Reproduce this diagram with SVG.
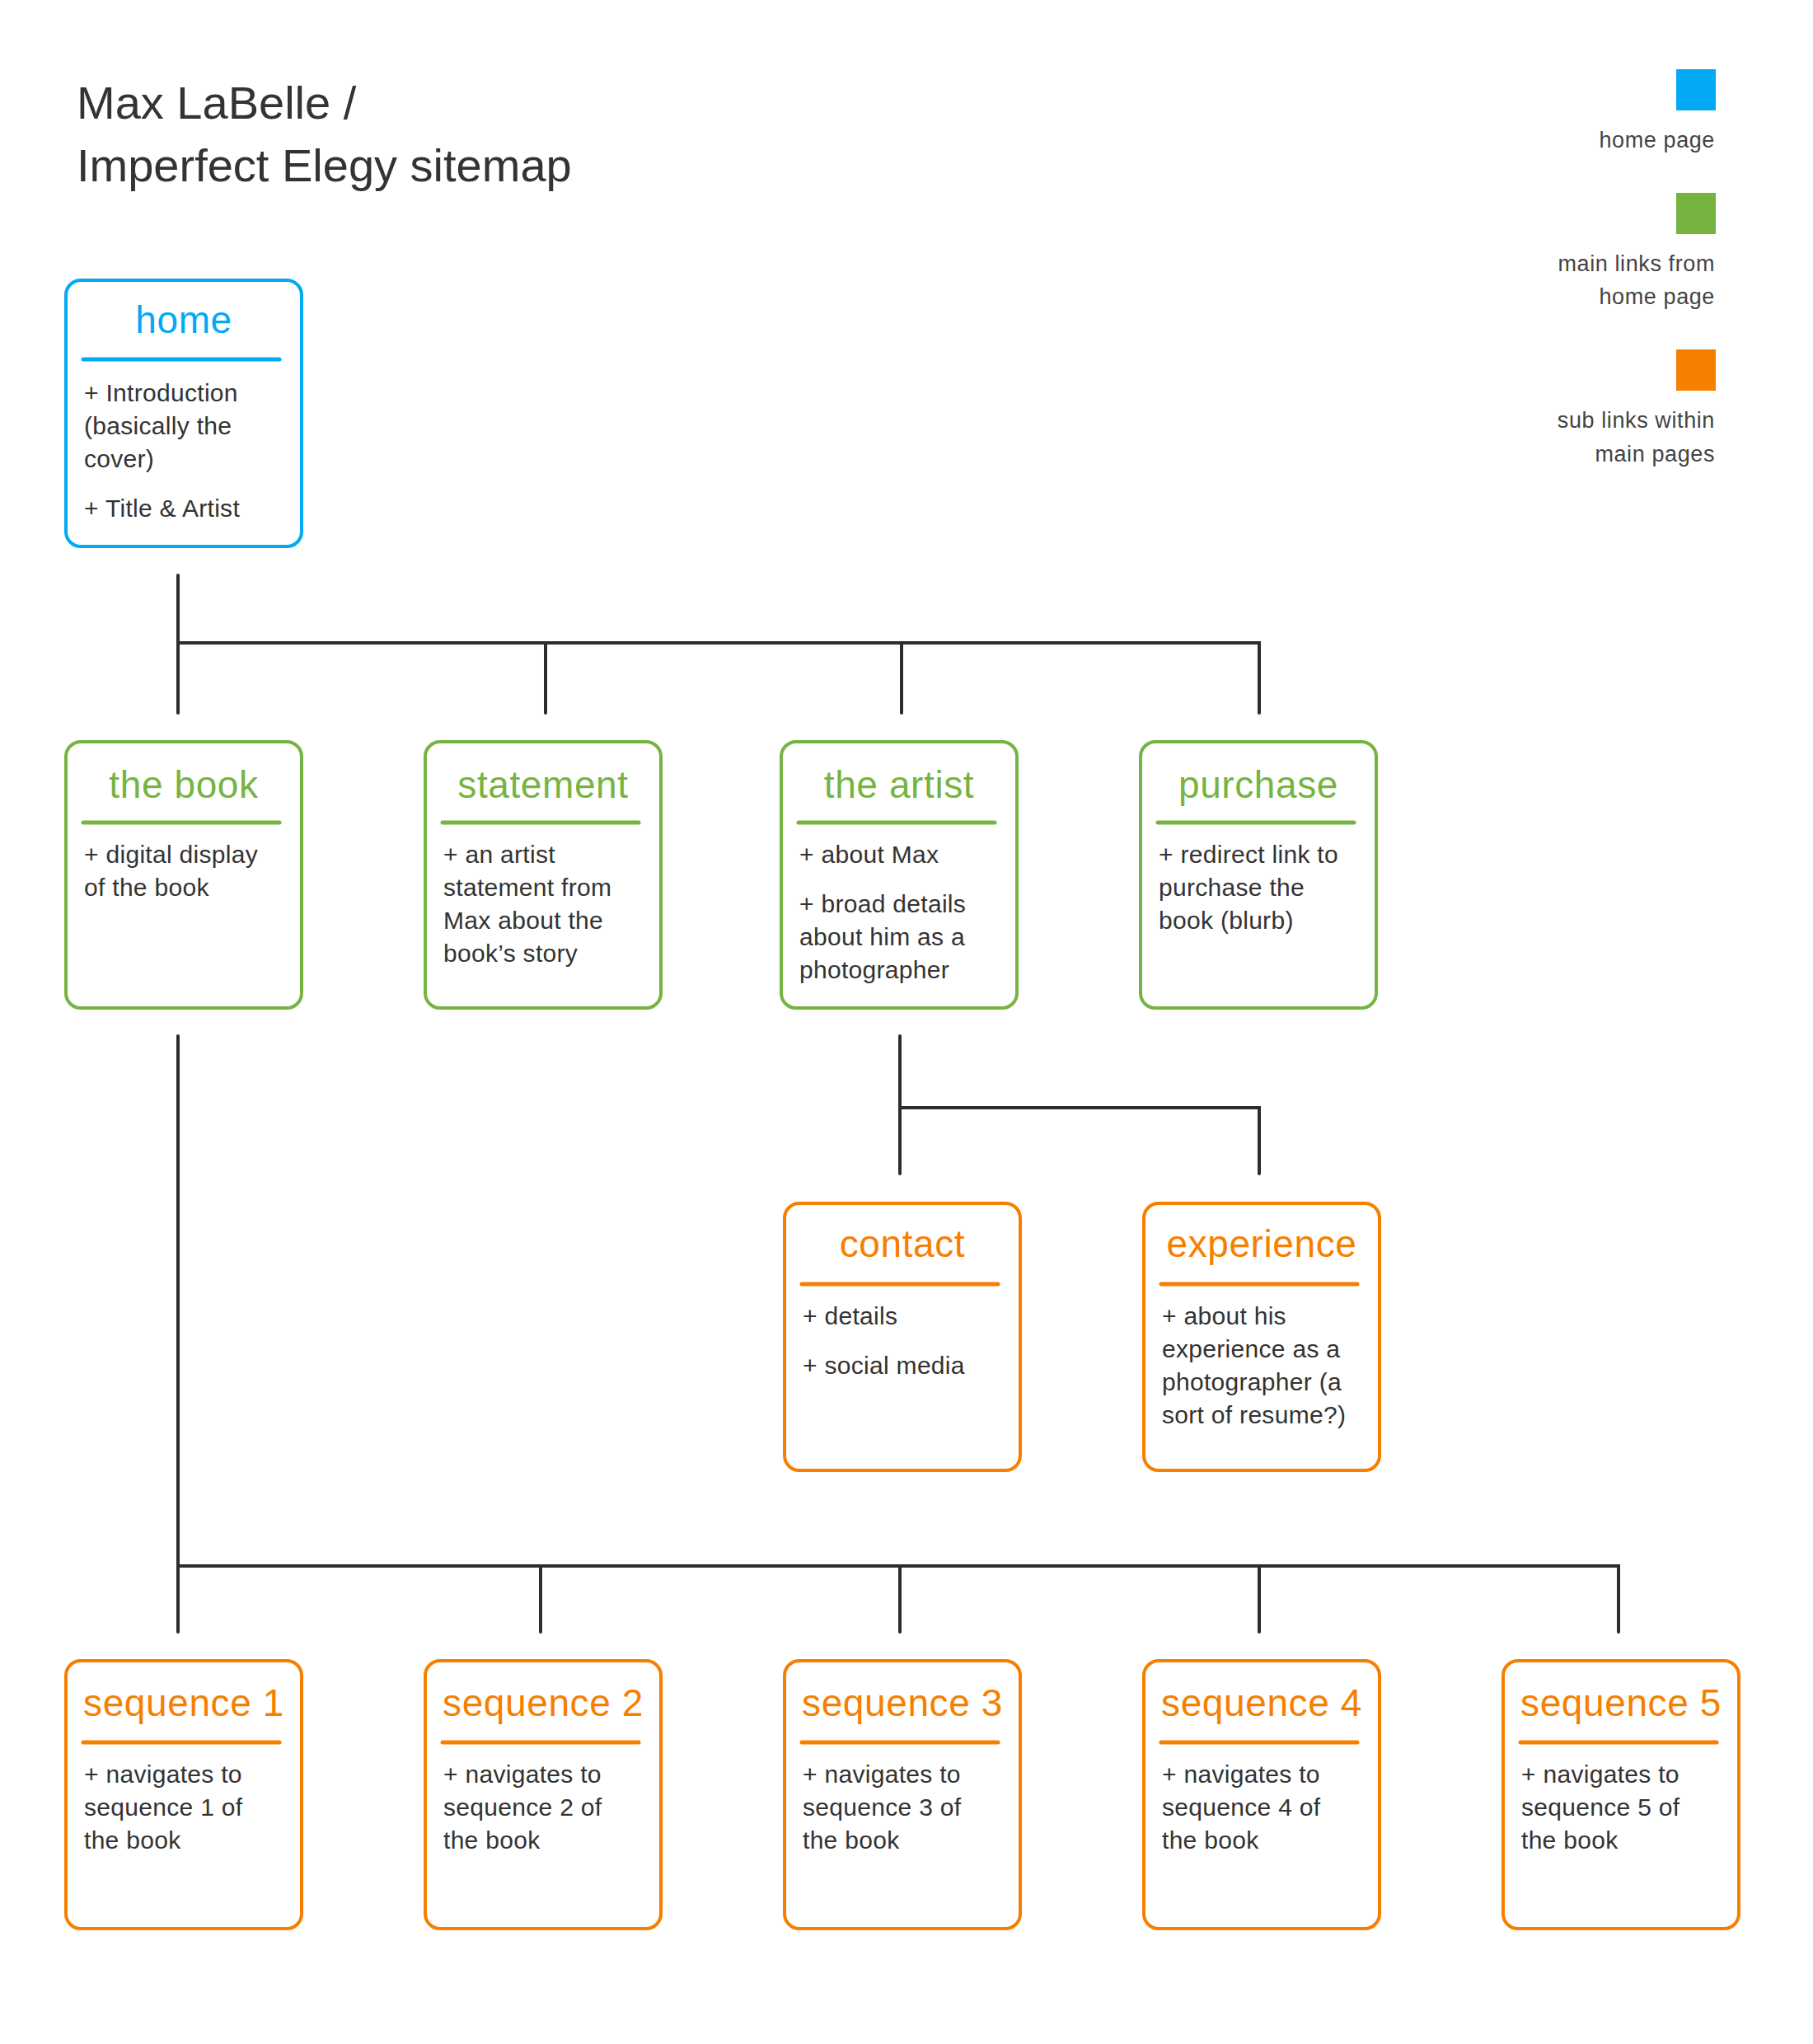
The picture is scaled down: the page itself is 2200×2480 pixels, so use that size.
<svg xmlns="http://www.w3.org/2000/svg" width="2200" height="2480" viewBox="0 0 2200 2480">
<style>
text{font-family:"Liberation Sans",Arial,sans-serif}
.ttl{font-size:56px;fill:#333}
.leg{font-size:27px;fill:#444;text-anchor:end;letter-spacing:0.6px}
.box{fill:#fff;stroke-width:4}
.div{stroke-width:5;stroke-linecap:round}
.h{font-size:46px;text-anchor:middle;letter-spacing:0.6px}
.b{font-size:30px;fill:#333;letter-spacing:0.3px}
.blue .box,.blue .div{stroke:#03A9F4}.blue .h{fill:#03A9F4}
.green .box,.green .div{stroke:#76B442}.green .h{fill:#76B442}
.orange .box,.orange .div{stroke:#F77F00}.orange .h{fill:#F77F00}
.con{stroke:#2d2d2d;stroke-width:4;fill:none;stroke-linecap:round;stroke-linejoin:miter}
</style>
<rect width="2200" height="2480" fill="#fff"/>
<g id="title">
<text class="ttl" x="93" y="144">Max LaBelle /</text>
<text class="ttl" x="93" y="220">Imperfect Elegy sitemap</text>
</g>
<g id="legend">
<rect x="2034" y="84" width="48" height="50" fill="#03A9F4"/>
<text class="leg" x="2081" y="179">home page</text>
<rect x="2034" y="234" width="48" height="50" fill="#76B442"/>
<text class="leg" x="2081" y="329">main links from</text>
<text class="leg" x="2081" y="369">home page</text>
<rect x="2034" y="424" width="48" height="50" fill="#F77F00"/>
<text class="leg" x="2081" y="519">sub links within</text>
<text class="leg" x="2081" y="560">main pages</text>
</g>
<g id="connectors">
<path class="con" d="M216 698V865M216 780H1528V865M662 780V865M1094 780V865"/>
<path class="con" d="M1092 1257V1424M1092 1344H1528V1424"/>
<path class="con" d="M216 1257V1980M216 1900H1964V1980M656 1900V1980M1092 1900V1980M1528 1900V1980"/>
</g>
<g id="home" class="blue">
<rect class="box" x="80" y="340" width="286" height="323" rx="18"/>
<text class="h" x="223" y="404">home</text>
<line class="div" x1="101" y1="436" x2="339" y2="436"/>
<text class="b" x="102" y="487">+ Introduction</text>
<text class="b" x="102" y="527">(basically the</text>
<text class="b" x="102" y="567">cover)</text>
<text class="b" x="102" y="627">+ Title &amp; Artist</text>
</g>
<g id="the-book" class="green">
<rect class="box" x="80" y="900" width="286" height="323" rx="18"/>
<text class="h" x="223" y="968">the book</text>
<line class="div" x1="101" y1="998" x2="339" y2="998"/>
<text class="b" x="102" y="1047">+ digital display</text>
<text class="b" x="102" y="1087">of the book</text>
</g>
<g id="statement" class="green">
<rect class="box" x="516" y="900" width="286" height="323" rx="18"/>
<text class="h" x="659" y="968">statement</text>
<line class="div" x1="537" y1="998" x2="775" y2="998"/>
<text class="b" x="538" y="1047">+ an artist</text>
<text class="b" x="538" y="1087">statement from</text>
<text class="b" x="538" y="1127">Max about the</text>
<text class="b" x="538" y="1167">book’s story</text>
</g>
<g id="the-artist" class="green">
<rect class="box" x="948" y="900" width="286" height="323" rx="18"/>
<text class="h" x="1091" y="968">the artist</text>
<line class="div" x1="969" y1="998" x2="1207" y2="998"/>
<text class="b" x="970" y="1047">+ about Max</text>
<text class="b" x="970" y="1107">+ broad details</text>
<text class="b" x="970" y="1147">about him as a</text>
<text class="b" x="970" y="1187">photographer</text>
</g>
<g id="purchase" class="green">
<rect class="box" x="1384" y="900" width="286" height="323" rx="18"/>
<text class="h" x="1527" y="968">purchase</text>
<line class="div" x1="1405" y1="998" x2="1643" y2="998"/>
<text class="b" x="1406" y="1047">+ redirect link to</text>
<text class="b" x="1406" y="1087">purchase the</text>
<text class="b" x="1406" y="1127">book (blurb)</text>
</g>
<g id="contact" class="orange">
<rect class="box" x="952" y="1460" width="286" height="324" rx="18"/>
<text class="h" x="1095" y="1525">contact</text>
<line class="div" x1="973" y1="1558" x2="1211" y2="1558"/>
<text class="b" x="974" y="1607">+ details</text>
<text class="b" x="974" y="1667">+ social media</text>
</g>
<g id="experience" class="orange">
<rect class="box" x="1388" y="1460" width="286" height="324" rx="18"/>
<text class="h" x="1531" y="1525">experience</text>
<line class="div" x1="1409" y1="1558" x2="1647" y2="1558"/>
<text class="b" x="1410" y="1607">+ about his</text>
<text class="b" x="1410" y="1647">experience as a</text>
<text class="b" x="1410" y="1687">photographer (a</text>
<text class="b" x="1410" y="1727">sort of resume?)</text>
</g>
<g id="sequence-1" class="orange">
<rect class="box" x="80" y="2015" width="286" height="325" rx="18"/>
<text class="h" x="223" y="2082">sequence 1</text>
<line class="div" x1="101" y1="2114" x2="339" y2="2114"/>
<text class="b" x="102" y="2163">+ navigates to</text>
<text class="b" x="102" y="2203">sequence 1 of</text>
<text class="b" x="102" y="2243">the book</text>
</g>
<g id="sequence-2" class="orange">
<rect class="box" x="516" y="2015" width="286" height="325" rx="18"/>
<text class="h" x="659" y="2082">sequence 2</text>
<line class="div" x1="537" y1="2114" x2="775" y2="2114"/>
<text class="b" x="538" y="2163">+ navigates to</text>
<text class="b" x="538" y="2203">sequence 2 of</text>
<text class="b" x="538" y="2243">the book</text>
</g>
<g id="sequence-3" class="orange">
<rect class="box" x="952" y="2015" width="286" height="325" rx="18"/>
<text class="h" x="1095" y="2082">sequence 3</text>
<line class="div" x1="973" y1="2114" x2="1211" y2="2114"/>
<text class="b" x="974" y="2163">+ navigates to</text>
<text class="b" x="974" y="2203">sequence 3 of</text>
<text class="b" x="974" y="2243">the book</text>
</g>
<g id="sequence-4" class="orange">
<rect class="box" x="1388" y="2015" width="286" height="325" rx="18"/>
<text class="h" x="1531" y="2082">sequence 4</text>
<line class="div" x1="1409" y1="2114" x2="1647" y2="2114"/>
<text class="b" x="1410" y="2163">+ navigates to</text>
<text class="b" x="1410" y="2203">sequence 4 of</text>
<text class="b" x="1410" y="2243">the book</text>
</g>
<g id="sequence-5" class="orange">
<rect class="box" x="1824" y="2015" width="286" height="325" rx="18"/>
<text class="h" x="1967" y="2082">sequence 5</text>
<line class="div" x1="1845" y1="2114" x2="2083" y2="2114"/>
<text class="b" x="1846" y="2163">+ navigates to</text>
<text class="b" x="1846" y="2203">sequence 5 of</text>
<text class="b" x="1846" y="2243">the book</text>
</g>
</svg>
